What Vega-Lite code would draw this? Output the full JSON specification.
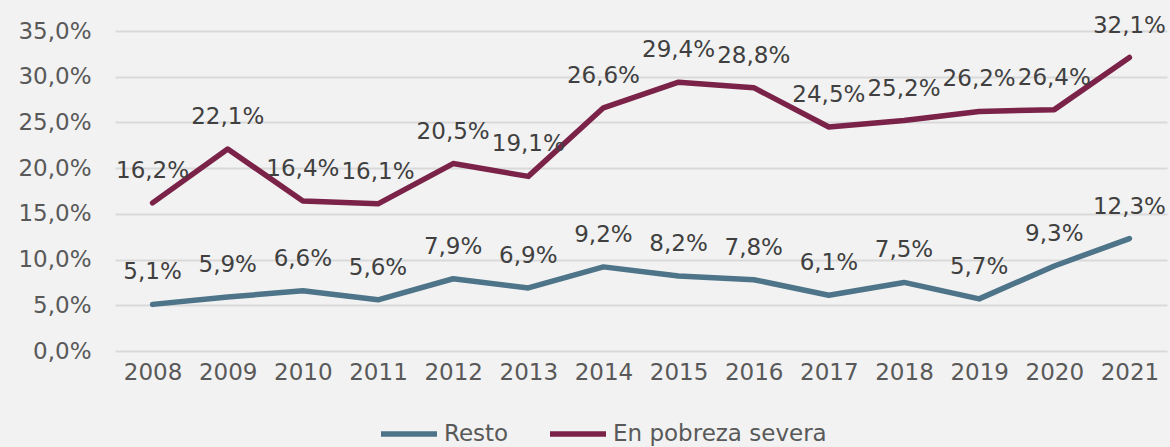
{
  "$schema": "https://vega.github.io/schema/vega-lite/v6.json",
  "width": 1052,
  "height": 320,
  "autosize": {"type": "none"},
  "padding": {"left": 115, "top": 31, "right": 3, "bottom": 96},
  "background": "#f2f2f2",
  "config": {
    "locale": {"number": {"decimal": ",", "thousands": ".", "grouping": [3], "currency": ["", " €"]}},
    "view": {"stroke": null},
    "font": "DejaVu Sans"
  },
  "data": {"values": [
    {"year": "2008", "serie": "En pobreza severa", "value": 0.162},
    {"year": "2009", "serie": "En pobreza severa", "value": 0.221},
    {"year": "2010", "serie": "En pobreza severa", "value": 0.164},
    {"year": "2011", "serie": "En pobreza severa", "value": 0.161},
    {"year": "2012", "serie": "En pobreza severa", "value": 0.205},
    {"year": "2013", "serie": "En pobreza severa", "value": 0.191},
    {"year": "2014", "serie": "En pobreza severa", "value": 0.266},
    {"year": "2015", "serie": "En pobreza severa", "value": 0.294},
    {"year": "2016", "serie": "En pobreza severa", "value": 0.288},
    {"year": "2017", "serie": "En pobreza severa", "value": 0.245},
    {"year": "2018", "serie": "En pobreza severa", "value": 0.252},
    {"year": "2019", "serie": "En pobreza severa", "value": 0.262},
    {"year": "2020", "serie": "En pobreza severa", "value": 0.264},
    {"year": "2021", "serie": "En pobreza severa", "value": 0.321},
    {"year": "2008", "serie": "Resto", "value": 0.051},
    {"year": "2009", "serie": "Resto", "value": 0.059},
    {"year": "2010", "serie": "Resto", "value": 0.066},
    {"year": "2011", "serie": "Resto", "value": 0.056},
    {"year": "2012", "serie": "Resto", "value": 0.079},
    {"year": "2013", "serie": "Resto", "value": 0.069},
    {"year": "2014", "serie": "Resto", "value": 0.092},
    {"year": "2015", "serie": "Resto", "value": 0.082},
    {"year": "2016", "serie": "Resto", "value": 0.078},
    {"year": "2017", "serie": "Resto", "value": 0.061},
    {"year": "2018", "serie": "Resto", "value": 0.075},
    {"year": "2019", "serie": "Resto", "value": 0.057},
    {"year": "2020", "serie": "Resto", "value": 0.093},
    {"year": "2021", "serie": "Resto", "value": 0.123}
  ]},
  "encoding": {
    "x": {
      "field": "year", "type": "ordinal",
      "axis": {"labelAngle": 0, "ticks": false, "domain": false, "grid": false, "labelFontSize": 23, "labelColor": "#595959", "labelPadding": 10, "title": null}
    },
    "y": {
      "field": "value", "type": "quantitative",
      "scale": {"domain": [0, 0.35], "nice": false},
      "axis": {"values": [0, 0.05, 0.1, 0.15, 0.2, 0.25, 0.3, 0.35], "format": ".1%", "grid": true, "gridColor": "#d9d9d9", "gridWidth": 2, "domain": false, "ticks": false, "labelPadding": 24, "labelFontSize": 23, "labelColor": "#595959", "title": null}
    }
  },
  "layer": [
    {
      "mark": {"type": "line", "strokeWidth": 5.5, "strokeJoin": "round", "strokeCap": "round"},
      "encoding": {
        "color": {
          "field": "serie", "type": "nominal",
          "scale": {"domain": ["Resto", "En pobreza severa"], "range": ["#4e7489", "#7b2248"]},
          "legend": {"orient": "none", "legendX": 263, "legendY": 372, "direction": "horizontal", "symbolType": "stroke", "symbolSize": 3136, "symbolStrokeWidth": 5.5, "labelFontSize": 23, "labelColor": "#595959", "labelLimit": 500, "columnPadding": 30, "labelOffset": 4, "title": null}
        }
      }
    },
    {
      "mark": {"type": "text", "dy": -32, "fontSize": 23, "color": "#404040"},
      "encoding": {"text": {"field": "value", "type": "quantitative", "format": ".1%"}}
    }
  ]
}
